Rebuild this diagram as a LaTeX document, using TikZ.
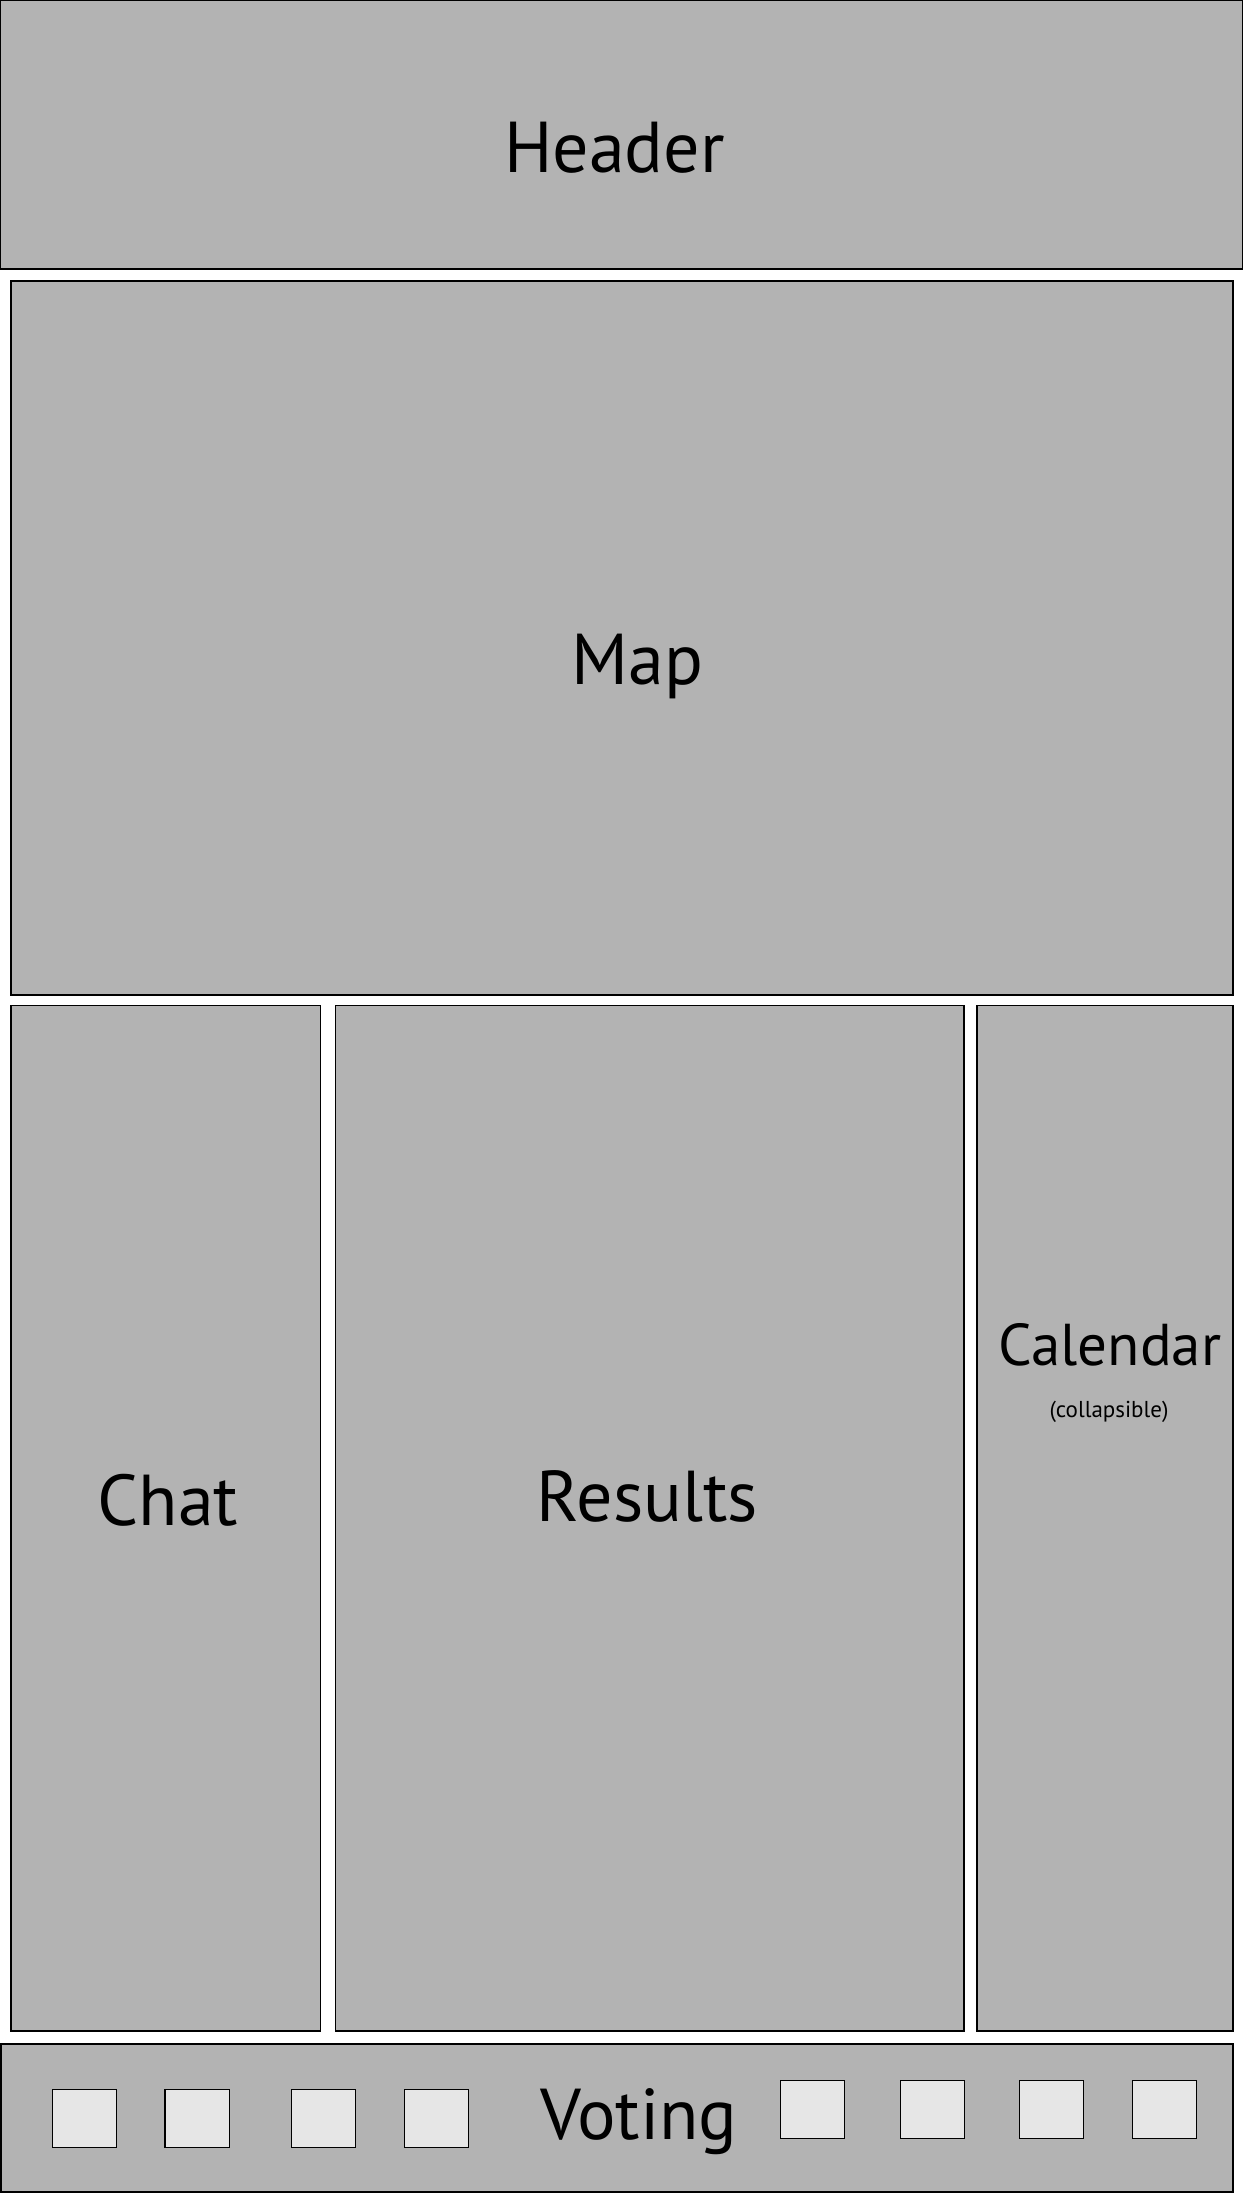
\documentclass[tikz,border=0pt]{standalone}
\usepackage{fontspec}
\setmainfont{PT Sans}
\definecolor{panelgray}{RGB}{179,179,179}
\definecolor{btngray}{RGB}{230,230,230}
\begin{document}
\begin{tikzpicture}[x=1pt,y=-1pt,
  panel/.style={draw=black,fill=panelgray,line width=1.3pt},
  btn/.style={draw=black,fill=btngray,line width=1.3pt},
  big/.style={anchor=base,inner sep=0pt,font=\fontsize{72}{76}\selectfont},
  mid/.style={anchor=base,inner sep=0pt,font=\fontsize{59}{63}\selectfont},
  small/.style={anchor=base,inner sep=0pt,font=\fontsize{23}{26}\selectfont}]
\useasboundingbox (0,0) rectangle (1243,2193);
\fill[white] (0,0) rectangle (1243,2193);
% panels
\draw[panel] (0.7,0.7) rectangle (1242.3,269);
\draw[panel] (11,281) rectangle (1233,995);
\draw[panel] (11,1005.7) rectangle (320.7,2031);
\draw[panel] (335.7,1005.7) rectangle (964,2031);
\draw[panel] (977,1005.7) rectangle (1233,2031);
\draw[panel] (1,2044) rectangle (1233,2192);
% buttons
\foreach \x in {52.3,165,291.3,404.3} {
  \draw[btn] (\x,2089.3) rectangle ++(64.4,58);
}
\foreach \x in {780.3,900.3,1019.3,1132.3} {
  \draw[btn] (\x,2080.3) rectangle ++(64.4,58);
}
% labels
\node[big] (header) at (614.5,172) {Header};
\node[big] (map) at (637.5,684) {Map};
\node[big] (chat) at (168,1525) {Chat};
\node[big] (results) at (647.4,1521) {Results};
\node[mid] (calendar) at (1110,1365) {Calendar};
\node[small] (collapsible) at (1109,1417) {(collapsible)};
\node[big] (voting) at (639,2139) {Voting};
\end{tikzpicture}
\end{document}
